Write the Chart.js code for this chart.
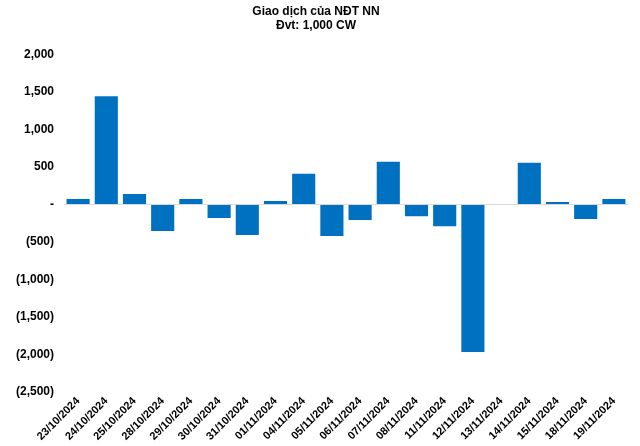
<!DOCTYPE html>
<html>
<head>
<meta charset="utf-8">
<script src="https://cdn.jsdelivr.net/npm/chart.js@4"></script>
<style>
  body { margin: 0; background: #fff; }
</style>
</head>
<body>
<canvas id="chart" width="640" height="446"></canvas>
<script>
const dates = [
  "23/10/2024", "24/10/2024", "25/10/2024", "28/10/2024", "29/10/2024",
  "30/10/2024", "31/10/2024", "01/11/2024", "04/11/2024", "05/11/2024",
  "06/11/2024", "07/11/2024", "08/11/2024", "11/11/2024", "12/11/2024",
  "13/11/2024", "14/11/2024", "15/11/2024", "18/11/2024", "19/11/2024"
];
const netValues = [
  72, 1444, 139, -355, 71, -180, -409, 45, 408, -422,
  -207, 569, -157, -292, -1970, 0, 556, 31, -194, 71
];
const yTicks = [2000, 1500, 1000, 500, 0, -500, -1000, -1500, -2000, -2500];
const titleLines = ["Giao dịch của NĐT NN", "Đvt: 1,000 CW"];

const fmt = (v) => {
  if (v === 0) return "-";
  const s = Math.abs(v).toLocaleString("en-US");
  return v < 0 ? "(" + s + ")" : s;
};

const font = "'Liberation Sans', Arial, sans-serif";

new Chart(document.getElementById("chart").getContext("2d"), {
  type: "bar",
  data: {
    labels: dates,
    datasets: [{
      data: netValues,
      backgroundColor: "#0070C0",
      barPercentage: 0.82,
      categoryPercentage: 1.0,
    }],
  },
  options: {
    responsive: false,
    animation: false,
    layout: { padding: { left: 4, right: 12, top: 0, bottom: 0 } },
    plugins: {
      legend: { display: false },
      tooltip: { enabled: false },
      title: {
        display: true,
        text: titleLines,
        color: "#000",
        font: { family: font, size: 12, weight: "bold", lineHeight: 1.15 },
        padding: { top: 5, bottom: 22 },
      },
    },
    scales: {
      x: {
        grid: { display: false, drawTicks: false },
        border: { display: false },
        ticks: {
          color: "#000",
          font: { family: font, size: 11, weight: "bold" },
          minRotation: 45,
          maxRotation: 45,
          autoSkip: false,
          padding: 3,
        },
      },
      y: {
        min: -2500,
        max: 2000,
        afterBuildTicks: (axis) => { axis.ticks = yTicks.map((v) => ({ value: v })); },
        afterFit: (axis) => { axis.width = 60; },
        grid: {
          drawTicks: false,
          color: (ctx) => (ctx.tick && ctx.tick.value === 0 ? "#d9d9d9" : "transparent"),
          lineWidth: 1,
        },
        border: { display: false },
        ticks: {
          color: "#000",
          font: { family: font, size: 12, weight: "bold" },
          padding: 10,
          callback: (v) => fmt(v),
        },
      },
    },
  },
});
</script>
</body>
</html>
